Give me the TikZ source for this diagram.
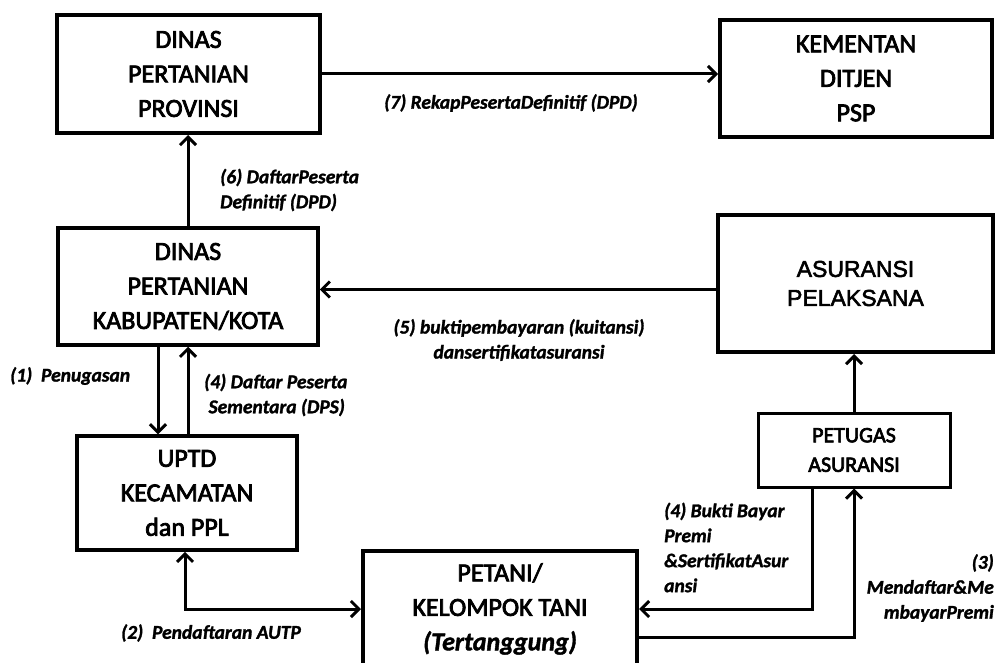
\documentclass[tikz,border=0pt]{standalone}
\usepackage{fontspec}
\setmainfont{Carlito}
\newfontfamily\boxf{Carlito}[RawFeature={embolden=3}]
\newfontfamily\lblf{Carlito}[RawFeature={embolden=1.5}]
\newfontfamily\arialf{Liberation Sans}[RawFeature={embolden=2.5}]
\usetikzlibrary{arrows.meta}
\begin{document}
\begin{tikzpicture}[x=1pt,y=-1pt,
  box/.style={draw, line width=#1, align=center, inner sep=0pt,
    font=\boxf\fontsize{26}{34.5}\selectfont},
  box/.default=3.5pt,
  lbl/.style={inner sep=0pt, font=\lblf\fontsize{19.5}{25}\selectfont\bfseries\itshape},
  arr/.style={line width=3pt, -{Straight Barb[length=8pt,width=16pt,line width=3pt]}},
  arrb/.style={line width=3pt, {Straight Barb[length=8pt,width=16pt,line width=3pt]}-{Straight Barb[length=8pt,width=16pt,line width=3pt]}}
]
\useasboundingbox (0,0) rectangle (998,663);
\fill[white] (0,0) rectangle (998,663);

% boxes
\node[box=4pt, minimum width=263pt, minimum height=118pt] (prov) at (188.5,74) {DINAS\\PERTANIAN\\PROVINSI};
\node[box=4pt, minimum width=272pt, minimum height=117pt] (kem) at (856,78.5) {KEMENTAN\\DITJEN\\PSP};
\node[box=3.5pt, minimum width=260pt, minimum height=117pt] (kab) at (188,286.5) {DINAS\\PERTANIAN\\KABUPATEN/KOTA};
\node[box=4pt, minimum width=275pt, minimum height=137pt, font=\arialf\fontsize{23}{29}\selectfont] (asu) at (855.5,283.5) {ASURANSI\\PELAKSANA};
\node[box=3.5pt, minimum width=220pt, minimum height=114pt] (uptd) at (187,493) {UPTD\\KECAMATAN\\dan PPL};
\node[box=3pt, minimum width=192pt, minimum height=74pt, font=\boxf\fontsize{22}{29.5}\selectfont] (pet) at (854,450) {PETUGAS\\ASURANSI};
\node[box=4pt, minimum width=274pt, minimum height=116pt] (tani) at (500,609) {PETANI/\\KELOMPOK TANI\\{\lblf\fontsize{26}{34.5}\selectfont\bfseries\itshape (Tertanggung)}};

% connectors
\draw[arr] (prov.east) -- (prov.east -| kem.west);
\draw[arr] (kab.north) -- (kab.north |- prov.south);
\draw[arr] ([yshift=-6pt]asu.west) -- ([yshift=-6pt]asu.west -| kab.east);
\draw[arr] ([xshift=-30pt]kab.south) -- ([xshift=-30pt]kab.south |- uptd.north);
\draw[arr] (uptd.north -| kab.south) -- (kab.south);
\draw[arr] (pet.north) -- (pet.north |- asu.south);
\draw[arrb] ([xshift=-2pt]uptd.south) |- (tani.west);
\draw[arr] ([xshift=-42pt]pet.south) |- (tani.east);
\draw[arr] ([yshift=-28pt]tani.east) -| (pet.south);

% labels
\node[lbl] (l7) at (511,103) {(7) RekapPesertaDefinitif (DPD)};
\node[lbl, anchor=west, align=left] (l6) at (220,190) {(6) DaftarPeserta\\Definitif (DPD)};
\node[lbl, align=center] (l5) at (519,340) {(5) buktipembayaran (kuitansi)\\dansertifikatasuransi};
\node[lbl, anchor=west] (l1) at (10,376) {(1)\ \ Penugasan};
\node[lbl, anchor=west, align=left] (l4a) at (204,395) {(4) Daftar Peserta\\\ Sementara (DPS)};
\node[lbl] (l2) at (211,633) {(2)\ \ Pendaftaran AUTP};
\node[lbl, anchor=west, align=left] (l4b) at (664,547.5) {(4) Bukti Bayar\\Premi\\\&SertifikatAsur\\ansi};
\node[lbl, anchor=east, align=right] (l3) at (994,588) {(3)\\Mendaftar\&Me\\mbayarPremi};
\end{tikzpicture}
\end{document}
